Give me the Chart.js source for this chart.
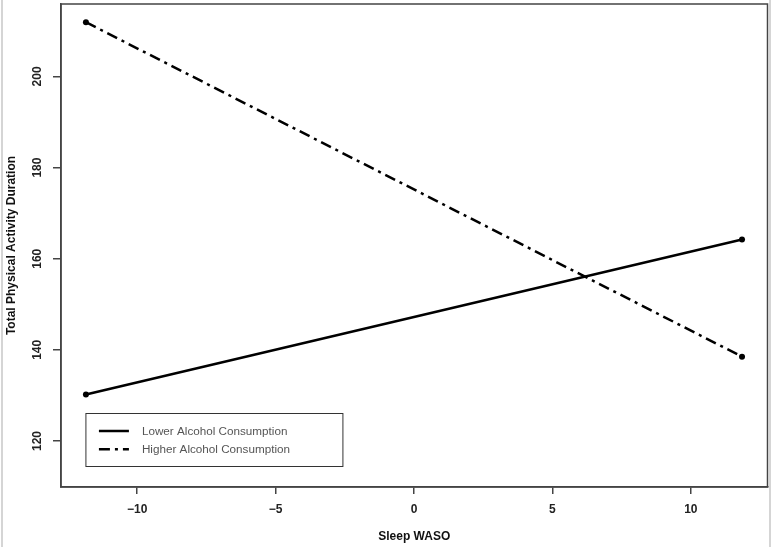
<!DOCTYPE html>
<html>
<head>
<meta charset="utf-8">
<script src="https://cdn.jsdelivr.net/npm/chart.js@4"></script>
<style>
  html, body { margin: 0; padding: 0; background: #ffffff; }
  #wrap { width: 772px; height: 547px; position: relative; }
</style>
</head>
<body>
<div id="wrap"><canvas id="c" width="772" height="547"></canvas></div>
<script>
// ---- data ----
const wasoLevels = [-11.85, 11.85];
const lowerAlcohol = [130.2, 164.2];
const higherAlcohol = [211.9, 138.5];
const seriesNames = ["Lower Alcohol Consumption", "Higher Alcohol Consumption"];
const xTickValues = [-10, -5, 0, 5, 10];
const yTickValues = [120, 140, 160, 180, 200];
const xTitle = "Sleep WASO";
const yTitle = "Total Physical Activity Duration";

const FONT = "'Liberation Sans', Arial, Helvetica, sans-serif";
const AXIS_COLOR = "#444";

function pts(xs, ys) { return xs.map((x, i) => ({ x: x, y: ys[i] })); }
function fmt(v) { return v < 0 ? "\u2212" + Math.abs(v) : String(v); }

const framePlugin = {
  id: "framePlugin",
  afterDraw(chart) {
    const ctx = chart.ctx;
    const a = chart.chartArea;
    ctx.save();
    // outer light frame lines
    ctx.strokeStyle = "#c8c8c8";
    ctx.lineWidth = 1.5;
    ctx.beginPath();
    ctx.moveTo(2, 0); ctx.lineTo(2, 547);
    ctx.moveTo(770, 0); ctx.lineTo(770, 547);
    ctx.stroke();
    // plot box
    ctx.strokeStyle = AXIS_COLOR;
    ctx.lineWidth = 1.5;
    ctx.strokeRect(a.left, a.top, a.right - a.left, a.bottom - a.top);
    // rotated y tick labels
    const ys = chart.scales.y;
    ctx.fillStyle = "#222";
    ctx.font = "bold 12px " + FONT;
    ctx.textAlign = "center";
    ctx.textBaseline = "middle";
    yTickValues.forEach(v => {
      const py = ys.getPixelForValue(v);
      ctx.save();
      ctx.translate(38, py);
      ctx.rotate(-Math.PI / 2);
      ctx.fillText(String(v), 0, 0);
      ctx.restore();
    });
    // legend
    const lx = chart.scales.x.getPixelForValue(-11.85);
    const bx = lx, by = 413.5, bw = 257, bh = 53;
    ctx.strokeStyle = "#333";
    ctx.lineWidth = 1;
    ctx.fillStyle = "#ffffff";
    ctx.fillRect(bx, by, bw, bh);
    ctx.strokeRect(bx, by, bw, bh);
    chart.data.datasets.forEach((ds, i) => {
      const yy = by + 17.5 + i * 18.3;
      ctx.save();
      ctx.strokeStyle = "#000";
      ctx.lineWidth = ds.borderWidth;
      ctx.setLineDash(ds.borderDash || []);
      ctx.beginPath();
      ctx.moveTo(bx + 13, yy);
      ctx.lineTo(bx + 43, yy);
      ctx.stroke();
      ctx.restore();
      ctx.fillStyle = "#555";
      ctx.font = "11.7px " + FONT;
      ctx.textAlign = "left";
      ctx.textBaseline = "middle";
      ctx.fillText(ds.label, bx + 56, yy + 0.5);
    });
    ctx.restore();
  }
};

new Chart(document.getElementById("c"), {
  type: "scatter",
  data: {
    datasets: [
      {
        label: seriesNames[0],
        data: pts(wasoLevels, lowerAlcohol),
        showLine: true,
        borderColor: "#000",
        backgroundColor: "#000",
        borderWidth: 2.5,
        pointRadius: 3,
        pointBorderWidth: 0,
        pointBackgroundColor: "#000"
      },
      {
        label: seriesNames[1],
        data: pts(wasoLevels, higherAlcohol),
        showLine: true,
        borderColor: "#000",
        backgroundColor: "#000",
        borderWidth: 2.5,
        borderDash: [11, 5, 3, 5],
        pointRadius: 3,
        pointBorderWidth: 0,
        pointBackgroundColor: "#000"
      }
    ]
  },
  options: {
    responsive: false,
    animation: false,
    devicePixelRatio: 1,
    layout: { padding: { top: 3.5, right: 4.5, left: 0, bottom: 0 } },
    plugins: {
      legend: { display: false },
      tooltip: { enabled: false }
    },
    scales: {
      x: {
        type: "linear",
        min: -12.75,
        max: 12.77,
        afterBuildTicks(scale) { scale.ticks = xTickValues.map(v => ({ value: v })); },
        afterFit(scale) { scale.height = 60; },
        grid: { drawOnChartArea: false, drawTicks: true, tickLength: 7, tickColor: AXIS_COLOR, lineWidth: 1.5 },
        border: { display: true, color: AXIS_COLOR, width: 1.5 },
        ticks: {
          padding: 8,
          color: "#222",
          font: { family: FONT, size: 12, weight: "bold" },
          maxRotation: 0,
          autoSkip: false,
          callback: v => fmt(v)
        },
        title: {
          display: true,
          text: xTitle,
          color: "#111",
          font: { family: FONT, size: 12, weight: "bold" },
          padding: { top: 0, bottom: 3 }
        }
      },
      y: {
        type: "linear",
        min: 109.9,
        max: 215.9,
        afterBuildTicks(scale) { scale.ticks = yTickValues.map(v => ({ value: v })); },
        afterFit(scale) { scale.width = 61; },
        grid: { drawOnChartArea: false, drawTicks: true, tickLength: 8, tickColor: AXIS_COLOR, lineWidth: 1.5 },
        border: { display: true, color: AXIS_COLOR, width: 1.5 },
        ticks: { display: false },
        title: {
          display: true,
          text: yTitle,
          color: "#111",
          font: { family: FONT, size: 12, weight: "bold" },
          padding: { top: 4, bottom: 0 }
        }
      }
    }
  },
  plugins: [framePlugin]
});
</script>
</body>
</html>
